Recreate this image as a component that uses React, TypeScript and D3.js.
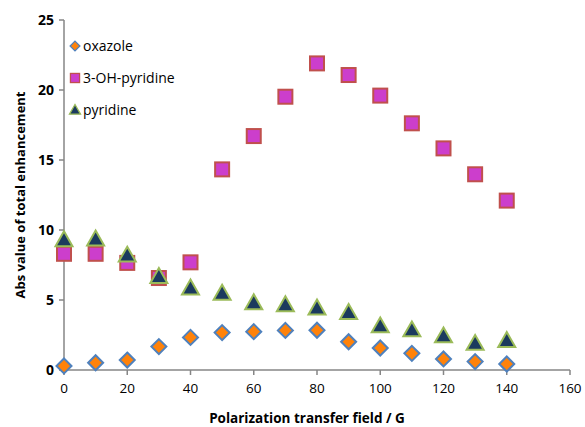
import React from "react";
import * as d3 from "d3";

const fields = [0, 10, 20, 30, 40, 50, 60, 70, 80, 90, 100, 110, 120, 130, 140];
const oxazole = [0.29, 0.52, 0.71, 1.67, 2.33, 2.67, 2.74, 2.83, 2.84, 2.02, 1.57, 1.19, 0.79, 0.6, 0.43];
const ohPyridine = [8.3, 8.3, 7.65, 6.57, 7.69, 14.33, 16.71, 19.52, 21.9, 21.07, 19.6, 17.62, 15.83, 13.98, 12.1];
const pyridine = [9.3, 9.35, 8.2, 6.67, 5.85, 5.48, 4.8, 4.66, 4.42, 4.1, 3.15, 2.86, 2.43, 1.9, 2.1];
const xTicks = [0, 20, 40, 60, 80, 100, 120, 140, 160];
const yTicks = [0, 5, 10, 15, 20, 25];
const seriesNames = ["oxazole", "3-OH-pyridine", "pyridine"];

const W = 585;
const H = 427;
const font = "'Open Sans', 'Noto Sans', sans-serif";
const axisColor = "#868686";

type Kind = "diamond" | "square" | "triangle";

function Marker({ kind, x, y, s = 1 }: { kind: Kind; x: number; y: number; s?: number }) {
  if (kind === "diamond") {
    const r = 7.5 * s;
    return (
      <path
        d={`M${x},${y - r}L${x + r},${y}L${x},${y + r}L${x - r},${y}Z`}
        fill="#FF8209"
        stroke="#4F81BD"
        strokeWidth={2 * s}
      />
    );
  }
  if (kind === "square") {
    const h = 7 * s;
    return (
      <rect x={x - h} y={y - h} width={2 * h} height={2 * h} fill="#CC3ECC" stroke="#C0504D" strokeWidth={2 * s} />
    );
  }
  const r = 8.5 * s;
  return (
    <path
      d={`M${x},${y - r}L${x + r},${y + r * 0.75}L${x - r},${y + r * 0.75}Z`}
      fill="#1B3A5E"
      stroke="#9BBB59"
      strokeWidth={2 * s}
    />
  );
}

export default function App() {
  const x = d3.scaleLinear().domain([0, 160]).range([64, 570]);
  const y = d3.scaleLinear().domain([0, 25]).range([370, 20]);

  const series: { name: string; kind: Kind; values: number[] }[] = [
    { name: seriesNames[0], kind: "diamond", values: oxazole },
    { name: seriesNames[1], kind: "square", values: ohPyridine },
    { name: seriesNames[2], kind: "triangle", values: pyridine },
  ];

  return (
    <svg
      width={W}
      height={H}
      style={{ position: "absolute", left: 0, top: 0, background: "#fff" }}
      fontFamily={font}
    >
      {/* axes */}
      <line x1={x(0)} x2={x(0)} y1={y(25)} y2={y(0)} stroke={axisColor} strokeWidth={1.5} />
      <line x1={x(0)} x2={x(160)} y1={y(0)} y2={y(0)} stroke={axisColor} strokeWidth={1.5} />
      {yTicks.map((t) => (
        <g key={"y" + t}>
          <line x1={x(0) - 5} x2={x(0)} y1={y(t)} y2={y(t)} stroke={axisColor} strokeWidth={1.5} />
          <text x={x(0) - 10} y={y(t)} dy="0.35em" textAnchor="end" fontSize={14} fontWeight="bold" fill="#000">
            {t}
          </text>
        </g>
      ))}
      {xTicks.map((t) => (
        <g key={"x" + t}>
          <line x1={x(t)} x2={x(t)} y1={y(0)} y2={y(0) + 5} stroke={axisColor} strokeWidth={1.5} />
          <text x={x(t)} y={y(0) + 18} dy="0.35em" textAnchor="middle" fontSize={13.5} fill="#000">
            {t}
          </text>
        </g>
      ))}

      {/* axis titles */}
      <text x={307} y={423} textAnchor="middle" fontSize={13.5} fontWeight="bold">
        Polarization transfer field / G
      </text>
      <text
        transform={`translate(20, 195) rotate(-90)`}
        textAnchor="middle"
        dy="0.35em"
        fontSize={13}
        fontWeight="bold"
      >
        Abs value of total enhancement
      </text>

      {/* data */}
      {series.map((s) => (
        <g key={s.name}>
          {s.values.map((v, i) => (
            <Marker key={i} kind={s.kind} x={x(fields[i])} y={y(v)} />
          ))}
        </g>
      ))}

      {/* legend */}
      {series.map((s, i) => (
        <g key={"leg" + s.name} transform={`translate(75, ${46 + i * 32})`}>
          <Marker kind={s.kind} x={0} y={0} s={0.65} />
          <text x={8} y={0} dy="0.35em" fontSize={14}>
            {s.name}
          </text>
        </g>
      ))}
    </svg>
  );
}
